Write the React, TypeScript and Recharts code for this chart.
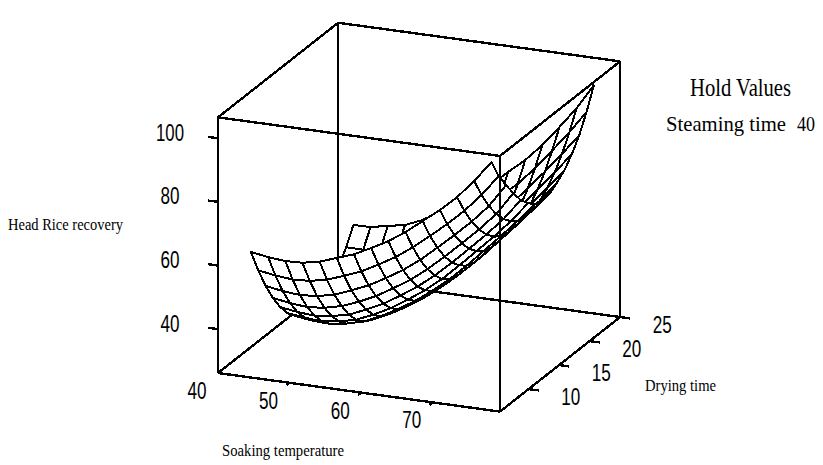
import { Scatter, ScatterChart, XAxis, YAxis } from 'recharts'

const WIDTH = 823
const HEIGHT = 465

// factor stations of the mesh
const soakingTemps = [44.6, 47, 49.4, 51.8, 54.2, 56.6, 59, 61.4, 63.8, 66.2, 68.6, 71, 73.4, 75.8, 78.2]
const dryingTimes = [5.3, 6.5, 7.7, 8.9, 10.1, 11.3, 12.5, 13.7, 14.9, 16.1, 17.3, 18.5, 19.7, 20.9, 22.1]

// head rice recovery along drying time, one list per soaking temperature
const soak446 = [65.7, 58.1, 51.4, 45.8, 41.1, 37.4, 34.7, 33, 32.3, 32.6, 33.8, 36.1, 39.3, 43.6, 48.8]
const soak470 = [64.8, 57.2, 50.5, 44.9, 40.3, 36.7, 34, 32.4, 31.8, 32.1, 33.5, 35.9, 39.2, 43.6, 48.9]
const soak494 = [64.3, 56.7, 50, 44.4, 39.9, 36.3, 33.7, 32.2, 31.7, 32.2, 33.7, 36.3, 39.8, 44.4, 50]
const soak518 = [64.5, 57, 50.4, 44.9, 40.5, 37, 34.5, 33, 32.5, 33.1, 34.7, 37.2, 40.8, 45.4, 51]
const soak542 = [65.6, 58.1, 51.6, 46.2, 41.7, 38.3, 35.9, 34.5, 34.1, 34.8, 36.5, 39.2, 42.8, 47.6, 53.3]
const soak566 = [67.5, 60.1, 53.7, 48.3, 44, 40.6, 38.3, 37, 36.7, 37.5, 39.2, 42, 45.8, 50.7, 56.5]
const soak590 = [69.4, 62.2, 56, 50.8, 46.6, 43.4, 41.2, 40, 39.8, 40.6, 42.4, 45.2, 48.9, 53.7, 59.5]
const soak614 = [72.1, 65.1, 59, 54, 49.9, 46.8, 44.6, 43.5, 43.3, 44.2, 46, 48.8, 52.5, 57.3, 63]
const soak638 = [75, 68.2, 62.3, 57.4, 53.5, 50.5, 48.5, 47.5, 47.4, 48.3, 50.2, 53, 56.8, 61.6, 67.3]
const soak662 = [78.6, 72, 66.2, 61.5, 57.7, 54.8, 52.9, 52, 52, 53, 54.9, 57.8, 61.6, 66.4, 72.1]
const soak686 = [82.8, 76.3, 70.8, 66.2, 62.5, 59.8, 57.9, 57, 57, 58, 59.9, 62.7, 66.4, 71, 76.6]
const soak710 = [87, 80.8, 75.5, 71.1, 67.6, 65, 63.3, 62.5, 62.6, 63.6, 65.5, 68.3, 72, 76.6, 82.1]
const soak734 = [91.8, 85.7, 80.5, 76.2, 72.8, 70.3, 68.7, 68, 68.2, 69.4, 71.4, 74.3, 78.1, 82.9, 88.5]
const soak758 = [97.6, 91.4, 86.1, 81.8, 78.4, 75.9, 74.3, 73.7, 74, 75.2, 77.4, 80.4, 84.4, 89.4, 95.2]
const soak782 = [104.3, 98.1, 93.4, 89.1, 85.1, 82.3, 80.2, 79.7, 80, 81.7, 83.7, 86.9, 91, 96.5, 103.1]
const recovery = [
  soak446, soak470, soak494, soak518, soak542, soak566, soak590, soak614,
  soak638, soak662, soak686, soak710, soak734, soak758, soak782,
]

const recoveryTicks = [40, 60, 80, 100]
const soakingTicks = [40, 50, 60, 70]
const dryingTicks = [10, 15, 20, 25]

// extent of the cube
const S0 = 40
const S1 = 79.4
const D0 = 5.3
const D1 = 25
const Z0 = 26.2
const Z1 = 106.6

/** Orthographic view of (soaking, drying, recovery) onto the page. */
function project(s: number, d: number, z: number) {
  return {
    x: 218 + 7.157 * (s - S0) + 6.1 * (d - D0),
    y: 373 + 0.98 * (s - S0) - 4.8 * (d - D0) - 3.18 * (z - Z0),
  }
}

type P = { x: number; y: number }
const edge = (a: number[], b: number[]): P[] => [project(a[0], a[1], a[2]), project(b[0], b[1], b[2])]

const backEdges = [
  edge([S0, D1, Z0], [S0, D1, Z1]),
  edge([S1, D1, Z0], [S1, D1, Z1]),
  edge([S0, D1, Z0], [S1, D1, Z0]),
  edge([S0, D0, Z0], [S0, D1, Z0]),
  edge([S1, D0, Z0], [S1, D1, Z0]),
]
const frontEdges = [
  edge([S0, D0, Z0], [S0, D0, Z1]),
  edge([S1, D0, Z0], [S1, D0, Z1]),
  edge([S0, D0, Z0], [S1, D0, Z0]),
  edge([S0, D0, Z1], [S1, D0, Z1]),
  edge([S0, D1, Z1], [S1, D1, Z1]),
  edge([S0, D0, Z1], [S0, D1, Z1]),
  edge([S1, D0, Z1], [S1, D1, Z1]),
]
const tickEdges = [
  ...recoveryTicks.map((z) => edge([S0, D0, z], [S0 - 1.4, D0, z])),
  ...soakingTicks.slice(1).map((s) => edge([s, D0, Z0], [s, D0 - 0.5, Z0])),
  ...dryingTicks.map((d) => edge([S1, d, Z0], [S1 + 1.4, d, Z0])),
]

// far cells first so nearer ones paint over them
const cells: (P & { corners: P[] })[] = []
for (let j = dryingTimes.length - 2; j >= 0; j--) {
  for (let i = 0; i < soakingTemps.length - 1; i++) {
    const corners = [
      project(soakingTemps[i], dryingTimes[j], recovery[i][j]),
      project(soakingTemps[i + 1], dryingTimes[j], recovery[i + 1][j]),
      project(soakingTemps[i + 1], dryingTimes[j + 1], recovery[i + 1][j + 1]),
      project(soakingTemps[i], dryingTimes[j + 1], recovery[i][j + 1]),
    ]
    cells.push({ ...corners[0], corners })
  }
}

const numberLabels = [
  ...recoveryTicks.map((z) => {
    const p = project(S0, D0, z)
    return { x: 170, y: p.y - 6, text: String(z), len: z === 100 ? 28 : 19 }
  }),
  ...soakingTicks.map((s) => {
    const p = project(s, D0, Z0)
    return { x: p.x - 21, y: p.y + 17.5, text: String(s), len: 19 }
  }),
  ...dryingTicks.map((d) => {
    const p = project(S1, d, Z0)
    return { x: p.x + 42, y: p.y + 7, text: String(d), len: 19 }
  }),
]

const titleLabels = [
  { x: 65.5, y: 224, text: 'Head Rice recovery', len: 115, size: 16 },
  { x: 283, y: 450, text: 'Soaking temperature', len: 122, size: 16 },
  { x: 680.5, y: 385, text: 'Drying time', len: 71, size: 16 },
  { x: 740.5, y: 87, text: 'Hold Values', len: 101, size: 25 },
  { x: 726, y: 123, text: 'Steaming time', len: 120, size: 22 },
  { x: 806, y: 123, text: '40', len: 18, size: 22 },
]

const noDot = () => <g />

function Cell(props: any) {
  const { cx, cy, payload } = props
  // axes run 1:1 with pixels, so corner offsets stay in data units
  const pts = payload.corners
    .map((c: P) => `${cx + c.x - payload.x},${cy + c.y - payload.y}`)
    .join(' ')
  return <polygon points={pts} fill="#fff" stroke="#000" strokeWidth={2} strokeLinejoin="round" />
}

function NumberLabel(props: any) {
  const { cx, cy, payload } = props
  return (
    <text
      x={cx}
      y={cy}
      textAnchor="middle"
      dominantBaseline="central"
      fontFamily="Liberation Sans"
      fontSize={24}
      textLength={payload.len}
      lengthAdjust="spacingAndGlyphs"
      fill="#000"
    >
      {payload.text}
    </text>
  )
}

function TitleLabel(props: any) {
  const { cx, cy, payload } = props
  return (
    <text
      x={cx}
      y={cy}
      textAnchor="middle"
      dominantBaseline="central"
      fontFamily="Liberation Serif"
      fontSize={payload.size}
      textLength={payload.len}
      lengthAdjust="spacingAndGlyphs"
      fill="#000"
    >
      {payload.text}
    </text>
  )
}

function lines(list: P[][], prefix: string, width: number) {
  return list.map((pts, n) => (
    <Scatter
      key={`${prefix}${n}`}
      data={pts}
      line={{ stroke: '#000', strokeWidth: width }}
      shape={noDot}
      isAnimationActive={false}
    />
  ))
}

export default function App() {
  return (
    <div
      style={{
        position: 'absolute',
        left: 0,
        top: 0,
        width: WIDTH,
        height: HEIGHT,
        background: '#fff',
        shapeRendering: 'crispEdges',
      }}
    >
      <ScatterChart width={WIDTH} height={HEIGHT} margin={{ top: 0, right: 0, bottom: 0, left: 0 }}>
        <XAxis type="number" dataKey="x" domain={[0, WIDTH]} hide allowDataOverflow />
        <YAxis type="number" dataKey="y" domain={[0, HEIGHT]} reversed hide allowDataOverflow />
        {lines(backEdges, 'back', 2.4)}
        <Scatter data={cells} shape={Cell} isAnimationActive={false} />
        {lines(frontEdges, 'front', 2.4)}
        {lines(tickEdges, 'tick', 2.4)}
        <Scatter data={numberLabels} shape={NumberLabel} isAnimationActive={false} />
        <Scatter data={titleLabels} shape={TitleLabel} isAnimationActive={false} />
      </ScatterChart>
    </div>
  )
}
